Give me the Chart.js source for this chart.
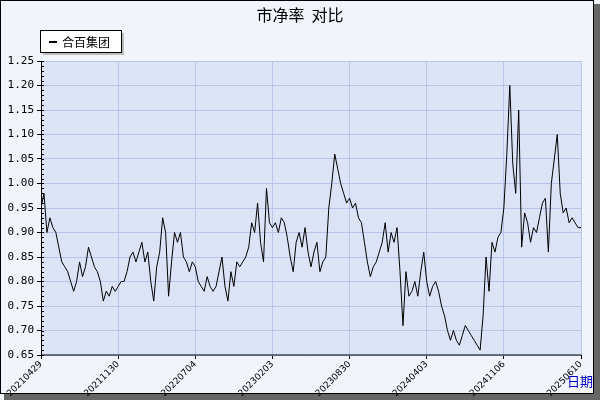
<!DOCTYPE html>
<html><head><meta charset="utf-8">
<script src="https://cdn.jsdelivr.net/npm/chart.js@4/dist/chart.umd.min.js"></script>
<style>html,body{margin:0;padding:0;background:#fff}#w{width:600px;height:400px}</style>
</head><body><div id="w"><canvas id="c" width="600" height="400"></canvas></div>
<script>
const seriesName = '合百集团';
const tickLabels = ['20210429','20211130','20220704','20230203','20230830','20240403','20241106','20250610'];
const pbValues = [
0.95,0.98,0.90,0.93,0.91,0.90,0.87,0.84,0.83,0.82,0.80,0.78,0.80,0.84,0.81,0.83,0.87,0.85,0.83,0.82,0.80,0.76,0.78,0.77,0.79,0.78,
0.79,0.80,0.80,0.82,0.85,0.86,0.84,0.86,0.88,0.84,0.86,0.80,0.76,0.83,0.86,0.93,0.90,0.77,0.84,0.90,0.88,0.90,0.85,0.84,0.82,0.84,
0.83,0.80,0.79,0.78,0.81,0.79,0.78,0.79,0.82,0.85,0.79,0.76,0.82,0.79,0.84,0.83,0.84,0.85,0.87,0.92,0.90,0.96,0.88,0.84,0.99,0.92,
0.91,0.92,0.90,0.93,0.92,0.89,0.85,0.82,0.88,0.90,0.87,0.91,0.86,0.83,0.86,0.88,0.82,0.84,0.85,0.95,1.00,1.06,1.03,1.00,0.98,0.96,
0.97,0.95,0.96,0.93,0.92,0.88,0.84,0.81,0.83,0.84,0.86,0.88,0.92,0.86,0.90,0.88,0.91,0.82,0.71,0.82,0.77,0.78,0.80,0.77,0.82,0.86,
0.80,0.77,0.79,0.80,0.78,0.75,0.73,0.70,0.68,0.70,0.68,0.67,0.69,0.71,0.70,0.69,0.68,0.67,0.66,0.73,0.85,0.78,0.88,0.86,0.89,0.90,
0.95,1.06,1.20,1.04,0.98,1.15,0.87,0.94,0.92,0.88,0.91,0.90,0.93,0.96,0.97,0.86,1.00,1.05,1.10,0.98,0.94,0.95,0.92,0.93,0.92,0.91,
0.91];
const yMin = 0.65, yMax = 1.25, yStep = 0.05, tickEvery = 26;

const pts = pbValues.map((v,i)=>({x:i,y:v}));
const decor = {
  id:'decor',
  beforeDraw(ch){
    const c=ch.ctx, a=ch.chartArea;
    c.save();
    c.fillStyle='#f2f4fb'; c.fillRect(0,0,600,400);
    c.fillStyle='#666'; c.fillRect(4,394,596,6); c.fillRect(594,4,6,396);
    c.fillStyle='#f2f4fb'; c.fillRect(1,1,592,392);
    c.strokeStyle='#000'; c.lineWidth=1; c.strokeRect(0.5,0.5,593,393);
    c.fillStyle='#dce3f7'; c.fillRect(a.left,a.top,a.right-a.left,a.bottom-a.top);
    c.restore();
  },
  afterDraw(ch){
    const c=ch.ctx, a=ch.chartArea, ys=ch.scales.y;
    c.save();
    c.fillStyle='#000'; c.font='16px "Noto Sans CJK SC"'; c.textAlign='center'; c.textBaseline='middle';
    c.fillText('市净率  对比',300,15);
    c.fillStyle='#bbb'; c.fillRect(43,33,81,22);
    c.fillStyle='#fff'; c.fillRect(40,30,81,22);
    c.strokeStyle='#000'; c.lineWidth=1; c.strokeRect(40.5,30.5,81,22);
    c.fillStyle='#000'; c.fillRect(49,41,8,2);
    c.font='12px "Noto Sans CJK SC"'; c.textAlign='left'; c.fillText(seriesName,62,42);
    c.strokeStyle='#000';
    for(let v=yMin; v<=yMax+1e-9; v+=0.01){
      const y=Math.round(ys.getPixelForValue(v))+0.5;
      c.beginPath(); c.moveTo(a.left,y); c.lineTo(a.left+3,y); c.stroke();
    }
    c.beginPath(); c.moveTo(a.left+0.5,a.top); c.lineTo(a.left+0.5,a.bottom); c.lineTo(a.right,a.bottom); c.stroke();
    c.fillStyle='#00c'; c.font='13px "Noto Sans CJK SC"'; c.textAlign='right';
    c.fillText('日期',593,381);
    c.restore();
  }
};
new Chart(document.getElementById('c'),{
  type:'line',
  data:{datasets:[{label:seriesName,data:pts,borderColor:'#000',borderWidth:1,pointRadius:0,tension:0}]},
  options:{
    responsive:false,animation:false,
    layout:{padding:{top:61,right:19,left:0,bottom:0}},
    plugins:{legend:{display:false},title:{display:false},tooltip:{enabled:false}},
    scales:{
      x:{type:'linear',min:0,max:pbValues.length-1,
        afterBuildTicks(s){s.ticks=tickLabels.map((_,i)=>({value:Math.min(i*tickEvery,pbValues.length-1)}));},
        afterFit(s){s.height=45;},
        grid:{color:'#b8c4e8',drawTicks:true,tickLength:4,tickColor:'#000'},
        border:{display:false},
        ticks:{autoSkip:false,minRotation:45,maxRotation:45,color:'#000',font:{family:'DejaVu Sans',size:9},padding:0,
          callback:(v,i)=>tickLabels[i]}
      },
      y:{min:yMin,max:yMax,
        afterBuildTicks(s){const t=[];for(let v=yMin;v<=yMax+1e-9;v+=yStep)t.push({value:+v.toFixed(2)});s.ticks=t;},
        afterFit(s){s.width=41;},
        grid:{color:'#b8c4e8',drawTicks:true,tickLength:4,tickColor:'#000'},
        border:{display:false},
        ticks:{color:'#000',font:{family:'DejaVu Sans Mono',size:11},padding:3,callback:v=>v.toFixed(2)}
      }
    }
  },
  plugins:[decor]
});
</script></body></html>
